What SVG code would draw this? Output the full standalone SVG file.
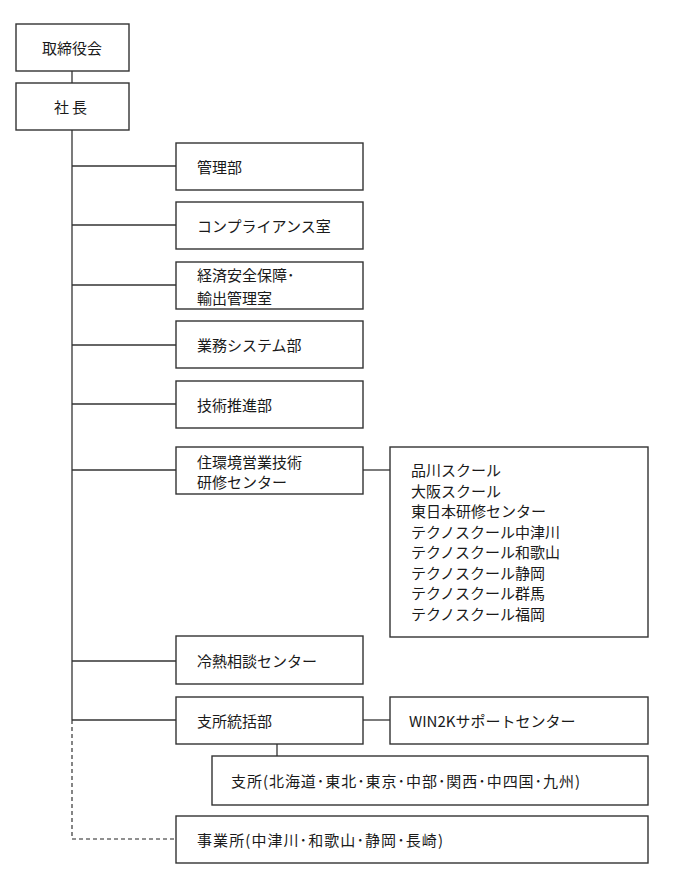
<svg xmlns="http://www.w3.org/2000/svg" width="673" height="889" viewBox="0 0 673 889">
<style>
.box{fill:#fff;stroke:#333;stroke-width:1.4}
.ln{fill:none;stroke:#333;stroke-width:1.3}
.dash{fill:none;stroke:#222;stroke-width:1.1;stroke-dasharray:4 3}
text{font-family:"Noto Sans CJK JP","Noto Sans",sans-serif;font-size:15px;fill:#1a1a1a;dominant-baseline:central}
.c{text-anchor:middle}
</style>
<rect width="673" height="889" fill="#fff"/>
<g id="connectors">
<line class="ln" x1="72" y1="71" x2="72" y2="83"/>
<line class="ln" x1="72" y1="130" x2="72" y2="720"/>
<path class="dash" d="M72 720 V839 H176"/>
<line class="ln" x1="72" y1="166" x2="176" y2="166"/>
<line class="ln" x1="72" y1="225" x2="176" y2="225"/>
<line class="ln" x1="72" y1="285" x2="176" y2="285"/>
<line class="ln" x1="72" y1="345" x2="176" y2="345"/>
<line class="ln" x1="72" y1="404" x2="176" y2="404"/>
<line class="ln" x1="72" y1="470" x2="176" y2="470"/>
<line class="ln" x1="363" y1="470" x2="390" y2="470"/>
<line class="ln" x1="72" y1="661" x2="176" y2="661"/>
<line class="ln" x1="72" y1="720" x2="176" y2="720"/>
<line class="ln" x1="363" y1="720" x2="390" y2="720"/>
<line class="ln" x1="277" y1="744" x2="277" y2="756"/>
</g>
<g id="board"><rect class="box" x="16" y="24" width="113" height="47"/><text class="c" x="72" y="47">取締役会</text></g>
<g id="president"><rect class="box" x="16" y="83" width="113" height="47"/><text class="c" x="72" y="106" letter-spacing="3">社長</text></g>
<g id="kanri"><rect class="box" x="176" y="143" width="187" height="47"/><text x="197" y="166">管理部</text></g>
<g id="compliance"><rect class="box" x="176" y="202" width="187" height="47"/><text x="197" y="225">コンプライアンス室</text></g>
<g id="keizai"><rect class="box" x="176" y="262" width="187" height="47"/><text x="197" y="274">経済安全保障･</text><text x="197" y="297">輸出管理室</text></g>
<g id="gyomu"><rect class="box" x="176" y="321" width="187" height="47"/><text x="197" y="344">業務システム部</text></g>
<g id="gijutsu"><rect class="box" x="176" y="381" width="187" height="47"/><text x="197" y="404">技術推進部</text></g>
<g id="jukankyo"><rect class="box" x="176" y="447" width="187" height="47"/><text x="197" y="461">住環境営業技術</text><text x="197" y="481">研修センター</text></g>
<g id="schools"><rect class="box" x="390" y="447" width="258" height="190"/>
<text x="411" y="469">品川スクール</text>
<text x="411" y="490">大阪スクール</text>
<text x="411" y="510">東日本研修センター</text>
<text x="411" y="531">テクノスクール中津川</text>
<text x="411" y="551">テクノスクール和歌山</text>
<text x="411" y="572">テクノスクール静岡</text>
<text x="411" y="592">テクノスクール群馬</text>
<text x="411" y="613">テクノスクール福岡</text>
</g>
<g id="reinetsu"><rect class="box" x="176" y="636" width="187" height="48"/><text x="197" y="660">冷熱相談センター</text></g>
<g id="shisho-tokatsu"><rect class="box" x="176" y="697" width="187" height="47"/><text x="197" y="720">支所統括部</text></g>
<g id="win2k"><rect class="box" x="390" y="697" width="258" height="47"/><text x="409" y="720">WIN2Kサポートセンター</text></g>
<g id="shisho"><rect class="box" x="212" y="756" width="436" height="49"/><text x="231" y="780" textLength="349" lengthAdjust="spacing">支所(北海道･東北･東京･中部･関西･中四国･九州)</text></g>
<g id="jigyosho"><rect class="box" x="176" y="816" width="472" height="47"/><text x="197" y="839" textLength="246" lengthAdjust="spacing">事業所(中津川･和歌山･静岡･長崎)</text></g>
</svg>
